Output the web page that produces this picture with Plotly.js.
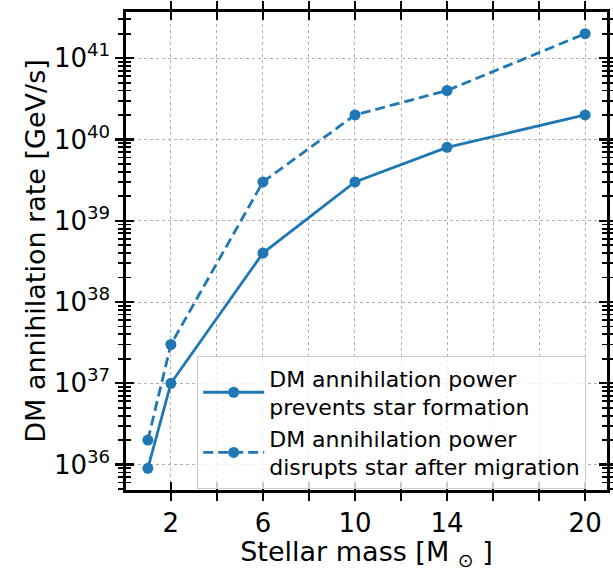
<!DOCTYPE html>
<html>
<head>
<meta charset="utf-8">
<script src="https://cdn.plot.ly/plotly-3.0.1.min.js"></script>
<style>html,body{margin:0;padding:0;background:#fff;}#plot{width:613px;height:571px;}</style>
</head>
<body>
<div id="plot"></div>
<script>
// Data
const stellarMass = [1, 2, 6, 10, 14, 20];
const preventsFormation = [9e35, 1e37, 4e38, 3e39, 8e39, 2e40];
const disruptsAfterMigration = [2e36, 3e37, 3e39, 2e40, 4e40, 2e41];
const seriesNames = [
  'DM annihilation power<br>prevents star formation',
  'DM annihilation power<br>disrupts star after migration'
];
const xTickVals = [2, 6, 10, 14, 20];
const xTickText = ['2', '6', '10', '14', '20'];
const xMinorVals = [4, 8, 12, 16, 18];
const yTickVals = [1e36, 1e37, 1e38, 1e39, 1e40, 1e41];
const yTickText = ['10<sup>36</sup>', '10<sup>37</sup>', '10<sup>38</sup>', '10<sup>39</sup>', '10<sup>40</sup>', '10<sup>41</sup>'];

const yMinorVals = [];
for (let e = 35; e <= 41; e++) {
  for (let m = 2; m <= 9; m++) yMinorVals.push(m * Math.pow(10, e));
}

const color = '#1f77b4';
const font = {family: 'DejaVu Sans', color: '#000'};
const xRange = [0.05, 20.95];
const yRange = [35.687, 41.568];

const traces = [
  {x: stellarMass, y: preventsFormation, name: seriesNames[0], type: 'scatter', mode: 'lines+markers',
   line: {color: color, width: 2.8}, marker: {color: color, size: 11}},
  {x: stellarMass, y: disruptsAfterMigration, name: seriesNames[1], type: 'scatter', mode: 'lines+markers',
   line: {color: color, width: 2.8, dash: '10px,5px'}, marker: {color: color, size: 11}},
  {x: [stellarMass[0]], y: [preventsFormation[0]], xaxis: 'x2', yaxis: 'y2', showlegend: false,
   mode: 'markers', marker: {opacity: 0}, hoverinfo: 'skip'}
];

const layout = {
  width: 613, height: 571,
  margin: {l: 126, r: 6, t: 12, b: 81},
  paper_bgcolor: '#fff', plot_bgcolor: '#fff',
  font: Object.assign({}, font, {size: 26}),
  showlegend: true,
  legend: {
    x: 0.148, y: 0.28, xanchor: 'left', yanchor: 'top',
    bgcolor: 'rgba(255,255,255,0.8)', bordercolor: '#cccccc', borderwidth: 1,
    font: Object.assign({}, font, {size: 22}),
    tracegroupgap: 0, valign: 'middle', itemwidth: 61
  },
  xaxis: {
    range: xRange, type: 'linear',
    tickmode: 'array', tickvals: xTickVals, ticktext: xTickText,
    ticks: 'outside', ticklen: 8, tickwidth: 2.2, tickcolor: '#000',
    showline: true, linewidth: 2.6, linecolor: '#000', mirror: 'ticks',
    showgrid: true, gridcolor: '#b0b0b0', griddash: 'dot', gridwidth: 1,
    zeroline: false,
    tickfont: Object.assign({}, font, {size: 26}),
    minor: {tickmode: 'array', tickvals: xMinorVals, ticks: 'outside', ticklen: 8, tickwidth: 2.2, tickcolor: '#000',
            showgrid: true, gridcolor: '#b0b0b0', griddash: 'dot', gridwidth: 1},
    title: {text: 'Stellar mass [M&nbsp;<sub>⊙</sub>&nbsp;]', font: Object.assign({}, font, {size: 27}), standoff: 6}
  },
  yaxis: {
    type: 'log', range: yRange,
    tickmode: 'array', tickvals: yTickVals, ticktext: yTickText,
    ticks: 'outside', ticklen: 8, tickwidth: 2.2, tickcolor: '#000',
    showline: true, linewidth: 2.6, linecolor: '#000', mirror: 'ticks',
    showgrid: true, gridcolor: '#b0b0b0', griddash: 'dot', gridwidth: 1,
    zeroline: false,
    tickfont: Object.assign({}, font, {size: 26}),
    minor: {tickmode: 'array', tickvals: yMinorVals, ticks: 'outside', ticklen: 5, tickwidth: 1.8, tickcolor: '#000', showgrid: false},
    title: {text: 'DM annihilation rate [GeV/s]', font: Object.assign({}, font, {size: 27}), standoff: 1}
  },
  xaxis2: {
    overlaying: 'x', range: xRange, type: 'linear',
    tickmode: 'array', tickvals: xTickVals, showticklabels: false,
    ticks: 'inside', ticklen: 8, tickwidth: 2.2, tickcolor: '#000',
    showline: true, linewidth: 2.6, linecolor: '#000', mirror: 'ticks',
    showgrid: false, zeroline: false,
    minor: {tickmode: 'array', tickvals: xMinorVals, ticks: 'inside', ticklen: 8, tickwidth: 2.2, tickcolor: '#000', showgrid: false}
  },
  yaxis2: {
    overlaying: 'y', type: 'log', range: yRange,
    tickmode: 'array', tickvals: yTickVals, showticklabels: false,
    ticks: 'inside', ticklen: 8, tickwidth: 2.2, tickcolor: '#000',
    showline: true, linewidth: 2.6, linecolor: '#000', mirror: 'ticks',
    showgrid: false, zeroline: false,
    minor: {tickmode: 'array', tickvals: yMinorVals, ticks: 'inside', ticklen: 5, tickwidth: 1.8, tickcolor: '#000', showgrid: false}
  }
};

Plotly.newPlot('plot', traces, layout, {staticPlot: true, displayModeBar: false});
</script>
</body>
</html>
